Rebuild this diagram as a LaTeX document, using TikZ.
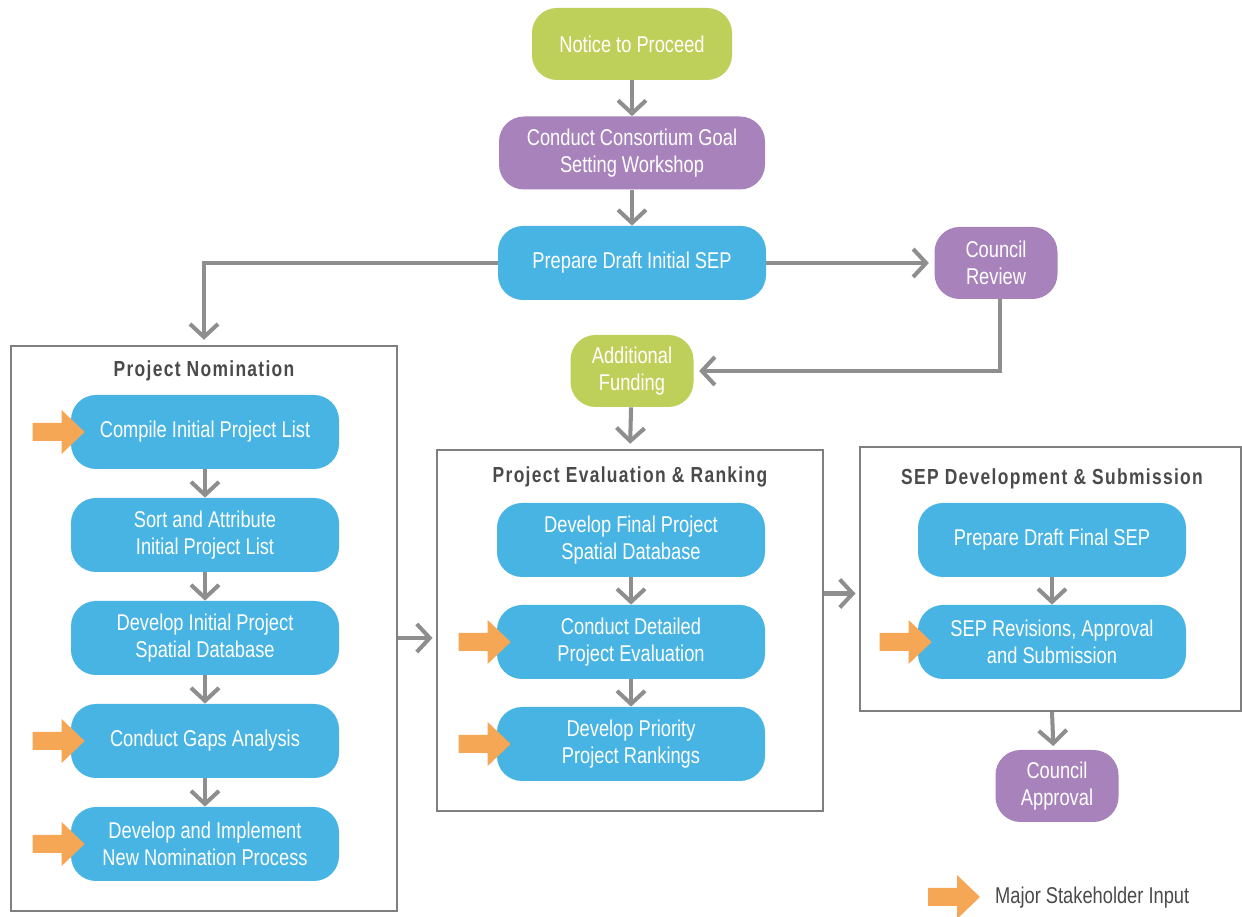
\documentclass[tikz,border=0pt]{standalone}
\usepackage{fontspec}
\setmainfont[FakeStretch=0.8]{Liberation Sans}
\newfontfamily\titlefont[FakeStretch=0.8,LetterSpace=6]{Liberation Sans}
\usetikzlibrary{arrows.meta}

\definecolor{sepgreen}{HTML}{BFD05A}
\definecolor{seppurple}{HTML}{A883BB}
\definecolor{sepblue}{HTML}{47B4E4}
\definecolor{stakeorange}{HTML}{F5A755}
\definecolor{flowgray}{HTML}{8E8E8E}
\definecolor{framegray}{HTML}{7F7F7F}
\definecolor{titlegray}{HTML}{4A4A4A}

\tikzset{
  task/.style={rounded corners=0.5cm, text=white, align=center,
    font=\fontsize{13}{15.2}\selectfont, inner sep=0pt},
  bluetask/.style={task, fill=sepblue, minimum width=5.36cm, minimum height=1.48cm},
  greentask/.style={task, fill=sepgreen},
  purpletask/.style={task, fill=seppurple},
  smalltask/.style={minimum width=2.46cm, minimum height=1.44cm},
  phase/.style={draw=framegray, line width=1.1pt, inner sep=0pt},
  phasetitle/.style={text=titlegray, font=\titlefont\bfseries\fontsize{12.4}{14}\selectfont},
  flow/.style={draw=flowgray, line width=2.3pt, -{Straight Barb[length=2.6mm,width=5.6mm]}}
}

% orange "major stakeholder input" arrow, #1 = tip
\newcommand{\stakearrow}[1]{%
  \fill[stakeorange] (#1) -- ++(-0.46,0.44) -- ++(0,-0.26) -- ++(-0.58,0)
    -- ++(0,-0.36) -- ++(0.58,0) -- ++(0,-0.26) -- cycle;}

\begin{document}
\begin{tikzpicture}
  \useasboundingbox (0,0) rectangle (24.84,-18.34);

  % Top of the process
  \node[greentask, minimum width=4cm, minimum height=1.44cm] (notice) at (12.64,-0.88) {Notice to Proceed};
  \node[purpletask, minimum width=5.32cm, minimum height=1.46cm] (goal) at (12.64,-3.06) {Conduct Consortium Goal\\Setting Workshop};
  \node[bluetask] (prepinit) at (12.64,-5.26) {Prepare Draft Initial SEP};
  \node[purpletask, smalltask] (review) at (19.92,-5.26) {Council\\Review};
  \node[greentask, smalltask] (funding) at (12.64,-7.42) {Additional\\Funding};

  % Phase frames
  \node[phase, minimum width=7.72cm, minimum height=11.3cm] (nomination) at (4.08,-12.57) {};
  \node[phase, minimum width=7.72cm, minimum height=7.22cm] (evaluation) at (12.6,-12.61) {};
  \node[phase, minimum width=7.62cm, minimum height=5.28cm] (submission) at (21.01,-11.58) {};
  \node[phasetitle] (nomtitle) at (4.08,-7.42) {Project Nomination};
  \node[phasetitle] (evaltitle) at (12.6,-9.54) {Project Evaluation \& Ranking};
  \node[phasetitle] (subtitle) at (21.04,-9.58) {SEP Development \& Submission};

  % Project Nomination
  \node[bluetask] (compile) at (4.1,-8.64) {Compile Initial Project List};
  \node[bluetask] (sort) at (4.1,-10.7) {Sort and Attribute\\Initial Project List};
  \node[bluetask] (initdb) at (4.1,-12.76) {Develop Initial Project\\Spatial Database};
  \node[bluetask] (gaps) at (4.1,-14.82) {Conduct Gaps Analysis};
  \node[bluetask] (newnom) at (4.1,-16.88) {Develop and Implement\\New Nomination Process};

  % Project Evaluation & Ranking
  \node[bluetask] (finaldb) at (12.62,-10.8) {Develop Final Project\\Spatial Database};
  \node[bluetask] (detailed) at (12.62,-12.84) {Conduct Detailed\\Project Evaluation};
  \node[bluetask] (priority) at (12.62,-14.88) {Develop Priority\\Project Rankings};

  % SEP Development & Submission
  \node[bluetask] (prepfinal) at (21.04,-10.8) {Prepare Draft Final SEP};
  \node[bluetask] (revisions) at (21.04,-12.84) {SEP Revisions, Approval\\and Submission};
  \node[purpletask, smalltask] (approval) at (21.14,-15.72) {Council\\Approval};

  % Connectors
  \draw[flow] (notice) -- (goal);
  \draw[flow] (goal) -- (prepinit);
  \draw[flow, shorten >=3pt] (prepinit.west) -| (nomination.north);
  \draw[flow, shorten >=3pt] (prepinit) -- (review);
  \draw[flow, shorten >=3pt] ([xshift=0.08cm]review.south) |- (funding.east);
  \draw[flow, shorten >=3pt] (funding) -- (evaluation.north);
  \draw[flow] (compile) -- (sort);
  \draw[flow] (sort) -- (initdb);
  \draw[flow] (initdb) -- (gaps);
  \draw[flow] (gaps) -- (newnom);
  \draw[flow, shorten >=2pt] (initdb -| nomination.east) -- (initdb -| evaluation.west);
  \draw[flow] (finaldb) -- (detailed);
  \draw[flow] (detailed) -- (priority);
  \draw[flow, shorten >=2pt] ([yshift=0.74cm]evaluation.east) -- ([yshift=0.74cm]evaluation.east -| submission.west);
  \draw[flow] (prepfinal) -- (revisions);
  \draw[flow, shorten >=2pt] ([xshift=0.03cm]submission.south) -- ([xshift=-0.07cm]approval.north);

  % Major stakeholder input
  \foreach \target in {compile, gaps, newnom, detailed, priority, revisions} {
    \stakearrow{[xshift=0.28cm]\target.west}
  }
  \coordinate (legendtip) at (19.6,-17.94);
  \stakearrow{legendtip}
  \node[anchor=west, text=titlegray, font=\fontsize{13}{15}\selectfont] (legend) at (19.78,-17.96) {Major Stakeholder Input};
\end{tikzpicture}
\end{document}
